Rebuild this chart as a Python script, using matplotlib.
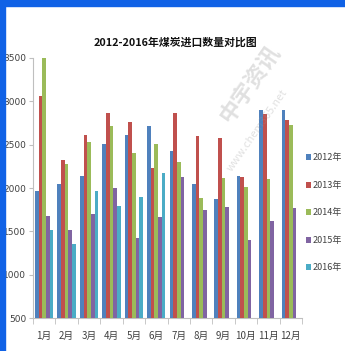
import matplotlib
matplotlib.use("Agg")
import matplotlib.pyplot as plt
from matplotlib.patches import Rectangle
import numpy as np

plt.rcParams['font.family'] = ['Noto Sans CJK SC', 'DejaVu Sans']

months = ["1月", "2月", "3月", "4月", "5月", "6月", "7月", "8月", "9月", "10月", "11月", "12月"]
series_names = ["2012年", "2013年", "2014年", "2015年", "2016年"]
v2012 = [1970, 2050, 2135, 2505, 2610, 2720, 2430, 2045, 1870, 2140, 2900, 2905]
v2013 = [3060, 2320, 2615, 2870, 2760, 2230, 2870, 2600, 2575, 2125, 2850, 2785]
v2014 = [3500, 2280, 2530, 2710, 2400, 2510, 2300, 1880, 2110, 2010, 2105, 2730]
v2015 = [1680, 1520, 1700, 2000, 1420, 1660, 2125, 1745, 1785, 1400, 1620, 1765]
v2016 = [1520, 1350, 1970, 1795, 1900, 2175]
colors = ["#4F81BD", "#C0504D", "#9BBB59", "#8064A2", "#4BACC6"]
yticks = [500, 1000, 1500, 2000, 2500, 3000, 3500]

fig = plt.figure(figsize=(3.45, 3.51), dpi=100)
fig.patch.set_facecolor("white")
ax = fig.add_axes([33 / 345, 1 - 318 / 351, 269 / 345, 260 / 351])

x = np.arange(len(months))
bw = 0.163
all_series = [v2012, v2013, v2014, v2015, v2016]
for i, (vals, name, c) in enumerate(zip(all_series, series_names, colors)):
    xs = x[:len(vals)] + (i - 2) * bw
    ax.bar(xs, np.array(vals) - 500, bottom=500, width=bw, color=c, label=name,
           linewidth=0, zorder=3)

ax.set_xlim(-0.5, len(months) - 0.5)
ax.set_ylim(500, 3500)
ax.set_yticks(yticks)
ax.set_yticklabels([str(t) for t in yticks], fontsize=6.5, color="#404040",
                   family=["Liberation Sans Narrow", "DejaVu Sans"])
ax.set_xticks(x)
ax.set_xticklabels(months, fontsize=7, color="#404040")
ax.set_xticks(np.arange(-0.5, len(months)), minor=True)
ax.tick_params(axis="x", which="major", length=0, pad=9)
ax.tick_params(axis="x", which="minor", length=4, color="#BFBFBF", direction="out")
ax.tick_params(axis="y", length=3, color="#BFBFBF", pad=2)
for s in ["top", "right"]:
    ax.spines[s].set_visible(False)
for s in ["left", "bottom"]:
    ax.spines[s].set_color("#BFBFBF")
    ax.spines[s].set_linewidth(0.8)

ax.set_title("2012-2016年煤炭进口数量对比图", fontsize=7.8, fontweight="bold",
             color="#111111", pad=9, x=0.53)

leg = ax.legend(loc="center left", bbox_to_anchor=(0.995, 0.404), frameon=False,
                fontsize=6.5, handlelength=0.6, handleheight=0.6, handletextpad=0.15,
                labelspacing=2.05, borderaxespad=0.2)
for t in leg.get_texts():
    t.set_color("#404040")

# faint site watermark
fig.text(0.725, 0.76, "中宇资讯", rotation=55, fontsize=16, fontweight="bold",
         color="#9a9a9a", alpha=0.3, ha="center", va="center", zorder=10)
fig.text(0.745, 0.63, "www.chem365.net", rotation=55, fontsize=8, style="italic",
         color="#9a9a9a", alpha=0.3, ha="center", va="center", zorder=10)

# blue frame on the top and left edges
fig.patches.append(Rectangle((0, 1 - 6 / 351), 1, 6 / 351, transform=fig.transFigure,
                             color="#1062E6", zorder=20))
fig.patches.append(Rectangle((0, 0), 5 / 345, 1, transform=fig.transFigure,
                             color="#1062E6", zorder=20))

fig.savefig("out.png", dpi=100, facecolor="white")
